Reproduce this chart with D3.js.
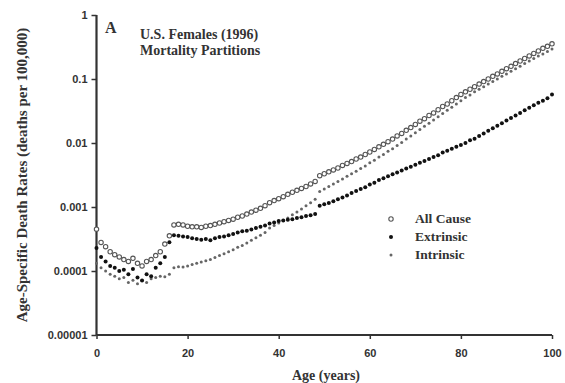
<!DOCTYPE html>
<html>
<head>
<meta charset="utf-8">
<script src="https://cdn.jsdelivr.net/npm/d3@7"></script>
<style>
  body { margin: 0; background: #fff; }
  svg { display: block; }
  .tick text { font-family: "Liberation Sans", Arial, sans-serif; font-weight: bold; font-size: 11px; fill: #333; }
  .serif { font-family: "Liberation Serif", "Times New Roman", serif; font-weight: bold; fill: #333; }
</style>
</head>
<body>
<div id="chart"></div>
<script>
const width = 565;
const height = 383;

// ages 0..100
const ages = d3.range(0, 101);

// rates (deaths per person-year, log axis)
const allCause = [
  4.5e-4, 2.8e-4, 2.4e-4, 2.0e-4, 1.8e-4, 1.66e-4, 1.51e-4, 1.41e-4, 1.58e-4, 1.32e-4,
  1.2e-4, 1.41e-4, 1.51e-4, 1.74e-4, 2.0e-4, 2.63e-4, 3.55e-4, 5.25e-4, 5.37e-4, 5.25e-4,
  5.0e-4, 4.9e-4, 4.9e-4, 4.79e-4, 5.0e-4, 5.13e-4, 5.37e-4, 5.62e-4, 5.89e-4, 6.17e-4,
  6.46e-4, 6.92e-4, 7.24e-4, 7.76e-4, 8.32e-4, 8.91e-4, 9.55e-4, 1.05e-3, 1.17e-3, 1.26e-3,
  1.35e-3, 1.45e-3, 1.58e-3, 1.70e-3, 1.82e-3, 1.95e-3, 2.09e-3, 2.29e-3, 2.51e-3, 3.09e-3,
  3.31e-3, 3.55e-3, 3.80e-3, 4.07e-3, 4.47e-3, 4.79e-3, 5.13e-3, 5.62e-3, 6.03e-3, 6.61e-3,
  7.24e-3, 7.94e-3, 8.71e-3, 9.55e-3, 1.05e-2, 1.15e-2, 1.29e-2, 1.41e-2, 1.58e-2, 1.74e-2,
  1.95e-2, 2.19e-2, 2.40e-2, 2.69e-2, 2.95e-2, 3.31e-2, 3.72e-2, 4.07e-2, 4.57e-2, 5.13e-2,
  5.75e-2, 6.31e-2, 6.92e-2, 7.59e-2, 8.32e-2, 9.12e-2, 0.100, 0.110, 0.120, 0.132,
  0.145, 0.158, 0.174, 0.191, 0.209, 0.229, 0.251, 0.275, 0.302, 0.324,
  0.355
];

const extrinsic = [
  2.29e-4, 1.66e-4, 1.41e-4, 1.20e-4, 1.12e-4, 1.00e-4, 1.05e-4, 8.9e-5, 1.07e-4, 7.9e-5,
  7.1e-5, 8.9e-5, 8.3e-5, 1.12e-4, 1.32e-4, 1.66e-4, 2.82e-4, 3.63e-4, 3.55e-4, 3.47e-4,
  3.39e-4, 3.24e-4, 3.16e-4, 3.09e-4, 3.16e-4, 3.02e-4, 3.24e-4, 3.39e-4, 3.47e-4, 3.63e-4,
  3.80e-4, 3.98e-4, 4.17e-4, 4.27e-4, 4.47e-4, 4.68e-4, 4.90e-4, 5.13e-4, 5.50e-4, 5.75e-4,
  6.03e-4, 6.17e-4, 6.31e-4, 6.46e-4, 6.76e-4, 6.92e-4, 7.24e-4, 7.41e-4, 7.76e-4, 1.05e-3,
  1.10e-3, 1.15e-3, 1.23e-3, 1.32e-3, 1.41e-3, 1.51e-3, 1.66e-3, 1.78e-3, 1.91e-3, 2.04e-3,
  2.24e-3, 2.40e-3, 2.63e-3, 2.82e-3, 3.02e-3, 3.24e-3, 3.47e-3, 3.72e-3, 3.98e-3, 4.27e-3,
  4.57e-3, 4.90e-3, 5.25e-3, 5.62e-3, 6.03e-3, 6.46e-3, 7.08e-3, 7.59e-3, 8.13e-3, 8.71e-3,
  9.33e-3, 1.00e-2, 1.10e-2, 1.17e-2, 1.29e-2, 1.41e-2, 1.55e-2, 1.70e-2, 1.86e-2, 2.04e-2,
  2.24e-2, 2.45e-2, 2.69e-2, 2.95e-2, 3.24e-2, 3.55e-2, 3.89e-2, 4.27e-2, 4.57e-2, 5.01e-2,
  5.75e-2
];

const intrinsic = [
  1.32e-4, 1.12e-4, 1.00e-4, 8.9e-5, 8.3e-5, 7.6e-5, 7.9e-5, 6.6e-5, 7.2e-5, 6.3e-5,
  7.1e-5, 6.6e-5, 7.6e-5, 7.9e-5, 8.3e-5, 8.1e-5, 8.9e-5, 1.12e-4, 1.17e-4, 1.15e-4,
  1.20e-4, 1.26e-4, 1.32e-4, 1.38e-4, 1.45e-4, 1.51e-4, 1.62e-4, 1.74e-4, 1.86e-4, 2.00e-4,
  2.14e-4, 2.34e-4, 2.51e-4, 2.75e-4, 3.02e-4, 3.31e-4, 3.63e-4, 3.98e-4, 4.68e-4, 5.13e-4,
  5.62e-4, 6.17e-4, 6.76e-4, 7.59e-4, 8.32e-4, 9.33e-4, 1.05e-3, 1.17e-3, 1.32e-3, 1.74e-3,
  1.91e-3, 2.09e-3, 2.29e-3, 2.51e-3, 2.75e-3, 3.02e-3, 3.31e-3, 3.63e-3, 3.98e-3, 4.37e-3,
  4.90e-3, 5.37e-3, 6.03e-3, 6.61e-3, 7.41e-3, 8.13e-3, 9.12e-3, 1.02e-2, 1.15e-2, 1.29e-2,
  1.45e-2, 1.62e-2, 1.82e-2, 2.04e-2, 2.29e-2, 2.57e-2, 2.88e-2, 3.24e-2, 3.63e-2, 4.07e-2,
  4.57e-2, 5.13e-2, 5.62e-2, 6.31e-2, 6.92e-2, 7.59e-2, 8.32e-2, 9.12e-2, 0.100, 0.110,
  0.120, 0.132, 0.145, 0.158, 0.174, 0.191, 0.209, 0.229, 0.245, 0.269,
  0.295
];

const xTicks = [0, 20, 40, 60, 80, 100];
const yTicks = [1, 0.1, 0.01, 0.001, 0.0001, 0.00001];
const yTickLabels = ["1", "0.1", "0.01", "0.001", "0.0001", "0.00001"];

const seriesNames = ["All Cause", "Extrinsic", "Intrinsic"];

const plotLeft = 96.5;
const plotRight = 552;
const plotTop = 15;
const plotBottom = 335;

const svg = d3.select("#chart")
  .append("svg")
  .attr("width", width)
  .attr("height", height);

const x = d3.scaleLinear().domain([0, 100]).range([plotLeft, plotRight]);
const y = d3.scaleLog().domain([0.00001, 1]).range([plotBottom, plotTop]);

// axes
const xAxis = svg.append("g")
  .attr("transform", `translate(0, ${plotBottom})`)
  .call(d3.axisBottom(x).tickValues(xTicks).tickSize(4).tickPadding(10));

const yAxis = svg.append("g")
  .attr("transform", `translate(${plotLeft}, 0)`)
  .call(d3.axisLeft(y).tickValues(yTicks).tickSize(5).tickPadding(4)
    .tickFormat((d, i) => yTickLabels[i]));

[xAxis, yAxis].forEach(a => {
  a.select(".domain").attr("stroke", "#333").attr("stroke-width", 2.2);
  a.selectAll(".tick line").attr("stroke", "#333").attr("stroke-width", 1.5);
});
xAxis.select(".domain").attr("d", `M${plotLeft},0H${plotRight}`);
yAxis.select(".domain").attr("d", `M0,${plotTop}V${plotBottom}`);

// axis titles
svg.append("text")
  .attr("class", "serif")
  .attr("x", 326)
  .attr("y", 380)
  .attr("text-anchor", "middle")
  .style("font-size", "14px")
  .text("Age (years)");

svg.append("text")
  .attr("class", "serif")
  .attr("transform", `translate(27, 175) rotate(-90)`)
  .attr("text-anchor", "middle")
  .style("font-size", "15px")
  .text("Age-Specific Death Rates (deaths per 100,000)");

// panel label and caption
svg.append("text").attr("class", "serif")
  .attr("x", 105).attr("y", 33)
  .style("font-size", "16px")
  .text("A");

svg.append("text").attr("class", "serif")
  .attr("x", 140).attr("y", 39)
  .style("font-size", "14px")
  .text("U.S. Females (1996)");

svg.append("text").attr("class", "serif")
  .attr("x", 140).attr("y", 55)
  .style("font-size", "14px")
  .text("Mortality Partitions");

// marker styles per series
const styles = {
  "All Cause": { r: 2.2, fill: "#fff", stroke: "#555", sw: 1.1 },
  "Extrinsic": { r: 2.0, fill: "#111", stroke: "none", sw: 0 },
  "Intrinsic": { r: 1.5, fill: "#666", stroke: "none", sw: 0 }
};

const seriesData = {
  "All Cause": allCause,
  "Extrinsic": extrinsic,
  "Intrinsic": intrinsic
};

const drawOrder = ["Intrinsic", "Extrinsic", "All Cause"];
drawOrder.forEach(name => {
  const s = styles[name];
  svg.append("g")
    .selectAll("circle")
    .data(ages.map((a, i) => ({ age: a, v: seriesData[name][i] })))
    .join("circle")
    .attr("cx", d => x(d.age))
    .attr("cy", d => y(d.v))
    .attr("r", s.r)
    .attr("fill", s.fill)
    .attr("stroke", s.stroke)
    .attr("stroke-width", s.sw);
});

// legend
const legend = svg.append("g");
seriesNames.forEach((name, i) => {
  const s = styles[name];
  const ly = 219 + i * 18;
  legend.append("circle")
    .attr("cx", 391).attr("cy", ly)
    .attr("r", s.r)
    .attr("fill", s.fill)
    .attr("stroke", s.stroke)
    .attr("stroke-width", s.sw);
  legend.append("text").attr("class", "serif")
    .attr("x", 415).attr("y", ly + 4)
    .style("font-size", "13.5px")
    .text(name);
});
</script>
</body>
</html>
